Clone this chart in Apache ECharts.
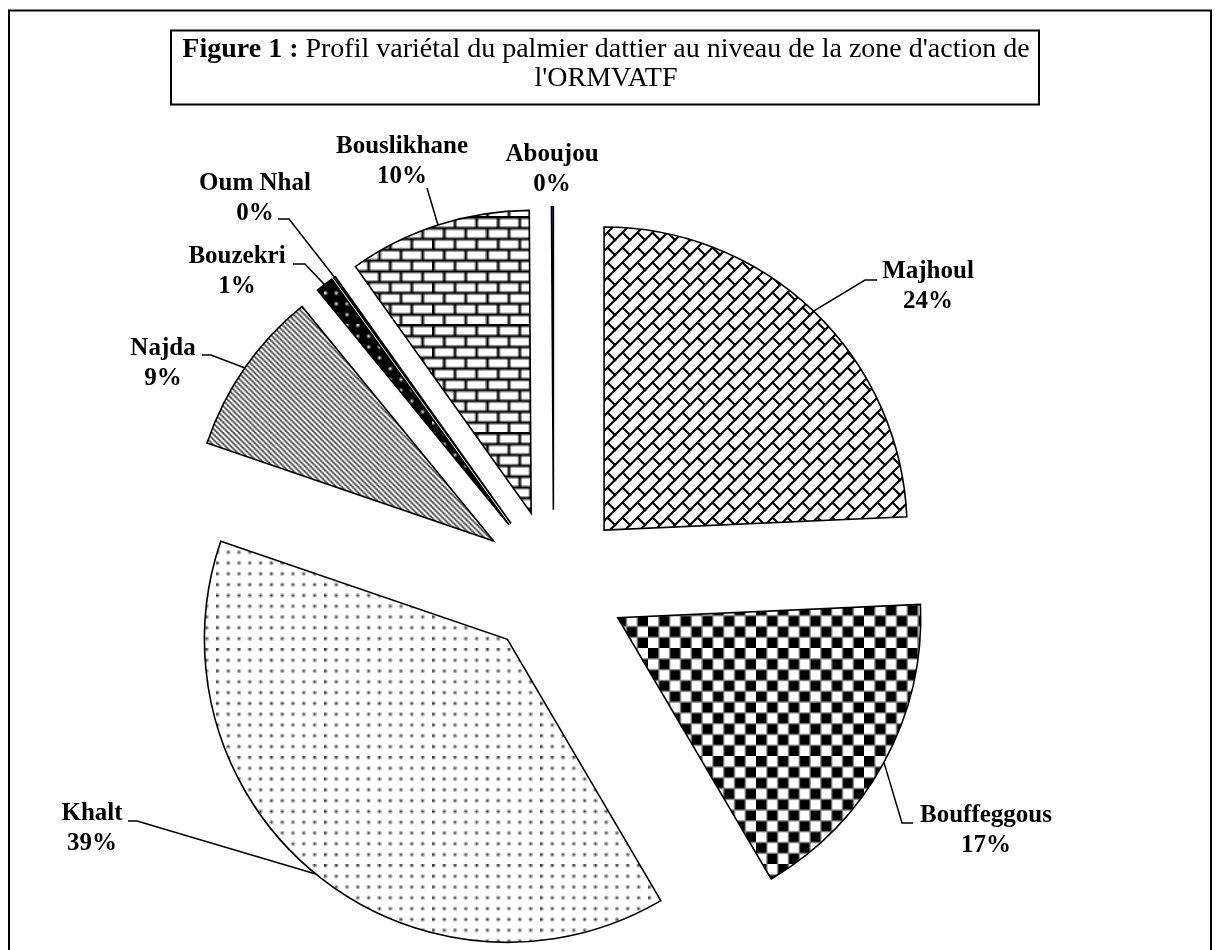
<!DOCTYPE html>
<html>
<head>
<meta charset="utf-8">
<script src="https://cdn.jsdelivr.net/npm/echarts@6/dist/echarts.min.js"></script>
<style>
html,body{margin:0;padding:0;background:#fff;}
#chart{width:1220px;height:950px;}
</style>
</head>
<body>
<div id="chart"></div>
<script>
// ---------------- data ----------------
const categories = ['Majhoul', 'Bouffeggous', 'Khalt', 'Najda', 'Bouzekri', 'Oum Nhal', 'Bouslikhane', 'Aboujou'];
const shares = [24.3, 17.25, 38.7, 8.85, 0.95, 0.1, 9.75, 0.1];
const titleBold = 'Figure 1 :';
const titleRest = "Profil variétal du palmier dattier au niveau de la zone d'action de";
const titleLine2 = "l'ORMVATF";

// ---------------- layout / style ----------------
const pieCentre = [553.6, 582.8];
const pieRadius = 303;
const explodeDist = 73;
const serif = '"Liberation Serif", "DejaVu Serif", serif';

// label centre and where its leader line meets it
const labelSpots = [
  {x: 928, y: 287, ax: 877, ay: 280, ex: 865},
  {x: 986, y: 831, ax: 913, ay: 823, ex: 902},
  {x: 92,  y: 829, ax: 128, ay: 821, ex: 137},
  {x: 163, y: 364, ax: 202, ay: 355, ex: 211},
  {x: 237, y: 272, ax: 293, ay: 264, ex: 305},
  {x: 255, y: 199, ax: 278, ay: 219, ex: 289},
  {x: 402, y: 162, ax: 427, ay: 188, ex: null},
  {x: 552, y: 170, ax: null, ay: null, ex: null}
];

// 8x8 hatch bitmaps scaled like the reference
function hatch(rows, fg, bg, s) {
  const reps = 5;
  const src = document.createElement('canvas');
  src.width = 8 * reps; src.height = 8 * reps;
  const sg = src.getContext('2d');
  sg.fillStyle = bg; sg.fillRect(0, 0, src.width, src.height);
  sg.fillStyle = fg;
  for (let ry = 0; ry < reps; ry++) for (let rx = 0; rx < reps; rx++)
    for (let r = 0; r < 8; r++) for (let c = 0; c < 8; c++)
      if (rows[r][c] === '1') sg.fillRect(rx * 8 + c, ry * 8 + r, 1, 1);
  const size = Math.round(8 * reps * s);
  const out = document.createElement('canvas');
  out.width = size; out.height = size;
  const og = out.getContext('2d');
  og.imageSmoothingEnabled = true;
  og.drawImage(src, 0, 0, size, size);
  return {image: out, repeat: 'repeat'};
}
// diagonal brick drawn with strokes (bricks run along "/")
function diagBrick(T, lw) {
  const c = document.createElement('canvas');
  c.width = T; c.height = T;
  const g = c.getContext('2d');
  g.fillStyle = '#fff'; g.fillRect(0, 0, T, T);
  g.strokeStyle = '#000'; g.lineWidth = lw; g.lineCap = 'square';
  for (let ox = -T; ox <= T; ox += T) for (let oy = -T; oy <= T; oy += T) {
    g.beginPath();
    g.moveTo(ox, oy + T); g.lineTo(ox + T, oy);
    g.moveTo(ox + T / 2, oy + T / 2); g.lineTo(ox + T, oy + T);
    g.stroke();
  }
  return {image: c, repeat: 'repeat'};
}
const P = {
  checker: ['11110000','11110000','11110000','11110000','00001111','00001111','00001111','00001111'],
  dots:    ['10001000','00000000','00000000','00000000','10001000','00000000','00000000','00000000'],
  diag:    ['11001100','01100110','00110011','10011001','11001100','01100110','00110011','10011001'],
  hBrick:  ['11111111','10000000','10000000','10000000','11111111','00001000','00001000','00001000']
};
const fills = [
  diagBrick(15, 2.2),
  hatch(P.checker, '#000', '#fff', 2.7),
  hatch(P.dots, '#333', '#fff', 2.7),
  hatch(P.diag, '#555', '#fff', 1.35),
  hatch(P.dots, '#fff', '#000', 2.7),
  '#ffffff',
  hatch(P.hBrick, '#000', '#fff', 2.7),
  '#4f7fbf'
];

// ---------------- build series: one exploded slice per series ----------------
const total = shares.reduce((a, b) => a + b, 0);
let cum = 0;
const series = categories.map((name, i) => {
  const mid = (cum + shares[i] / 2) / total * 2 * Math.PI;
  cum += shares[i];
  const cx = pieCentre[0] + explodeDist * Math.sin(mid);
  const cy = pieCentre[1] - explodeDist * Math.cos(mid);
  const spot = labelSpots[i];
  return {
    type: 'pie',
    center: [cx, cy],
    radius: pieRadius,
    startAngle: 90,
    clockwise: true,
    animation: false,
    silent: true,
    avoidLabelOverlap: false,
    emphasis: {disabled: true},
    data: categories.map((n, j) => ({
      name: n,
      value: shares[j],
      itemStyle: j === i
        ? {color: fills[j], borderColor: '#000', borderWidth: 1.6, borderJoin: 'miter'}
        : {color: 'rgba(0,0,0,0)', borderWidth: 0},
      label: {show: j === i},
      labelLine: {show: j === i && spot.ax != null}
    })),
    label: {
      show: true,
      position: 'outside',
      color: '#000',
      fontFamily: serif,
      fontWeight: 'bold',
      fontSize: 25,
      lineHeight: 30,
      formatter: p => p.name + '\n' + Math.round(p.percent) + '%'
    },
    labelLine: {
      show: true, length: 10, length2: 10, smooth: false,
      lineStyle: {color: '#000', width: 1.5}
    },
    labelLayout: function (p) {
      const out = {x: spot.x, y: spot.y, align: 'center', verticalAlign: 'middle'};
      if (p.labelLinePoints && spot.ax != null) {
        const start = p.labelLinePoints[0];
        out.labelLinePoints = spot.ex != null
          ? [start, [spot.ex, spot.ay], [spot.ax, spot.ay]]
          : [start, [spot.ax, spot.ay]];
      }
      return out;
    }
  };
});

const chart = echarts.init(document.getElementById('chart'), null, {renderer: 'canvas'});
chart.setOption({
  backgroundColor: '#fff',
  animation: false,
  graphic: [
    {type: 'rect', z: -10, shape: {x: 9, y: 10.5, width: 1202, height: 980},
     style: {fill: 'none', stroke: '#000', lineWidth: 2}},
    {type: 'rect', z: 10, shape: {x: 171, y: 30.5, width: 868, height: 74},
     style: {fill: '#fff', stroke: '#000', lineWidth: 2}},
    {type: 'text', z: 11, x: 606, y: 35,
     style: {
       text: '{b|' + titleBold + '} {r|' + titleRest + '}\n{r|' + titleLine2 + '}',
       align: 'center', verticalAlign: 'top',
       rich: {
         b: {fontFamily: serif, fontWeight: 'bold', fontSize: 28, lineHeight: 29, fill: '#000'},
         r: {fontFamily: serif, fontSize: 28, lineHeight: 29, fill: '#000'}
       },
       fontFamily: serif, fontSize: 28, lineHeight: 29, fill: '#000'
     }}
  ],
  series: series
});
</script>
</body>
</html>
